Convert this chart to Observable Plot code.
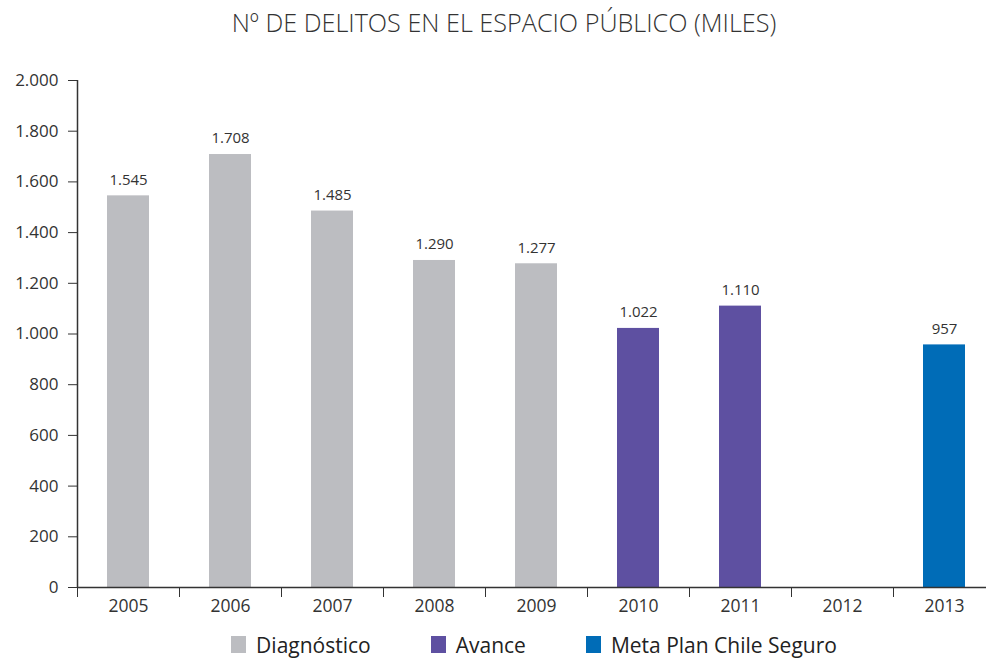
<!DOCTYPE html>
<html>
<head>
<meta charset="utf-8">
<script src="https://cdn.jsdelivr.net/npm/d3@7"></script>
<script src="https://cdn.jsdelivr.net/npm/@observablehq/plot@0.6"></script>
<style>
  html, body { margin: 0; padding: 0; background: #fff; }
  body { width: 986px; height: 658px; overflow: hidden; font-family: "Open Sans", sans-serif; color: #333; }
  #title { height: 45px; line-height: 45px; text-align: center; font-size: 25.2px; font-weight: 300; color: #333; padding-left: 22px; }
  #legend { box-sizing: border-box; display: flex; justify-content: center; align-items: center; height: 33px; padding-top: 6px; font-size: 21px; line-height: 26px; color: #222; padding-left: 82px; }
  .item { display: flex; align-items: center; margin: 0 30px; }
  .sw { width: 15px; height: 17px; margin-right: 10px; }
</style>
</head>
<body>
<div id="title">Nº DE DELITOS EN EL ESPACIO PÚBLICO (MILES)</div>
<div id="chart"></div>
<div id="legend"></div>
<script>
const years = [2005, 2006, 2007, 2008, 2009, 2010, 2011, 2012, 2013];
const values = [1545, 1708, 1485, 1290, 1277, 1022, 1110, null, 957];
const series = ["Diagnóstico", "Diagnóstico", "Diagnóstico", "Diagnóstico", "Diagnóstico", "Avance", "Avance", null, "Meta Plan Chile Seguro"];
const seriesNames = ["Diagnóstico", "Avance", "Meta Plan Chile Seguro"];
const seriesColors = ["#bcbdc1", "#5e50a1", "#006cb7"];
const yTicks = [0, 200, 400, 600, 800, 1000, 1200, 1400, 1600, 1800, 2000];

const data = years.map((year, i) => ({year, value: values[i], series: series[i]})).filter(d => d.value != null);
const boundaries = [years[0] - 0.5, ...years.map(y => y + 0.5)];

const locale = d3.formatLocale({decimal: ",", thousands: ".", grouping: [3], currency: ["$", ""]});
const fmt = locale.format(",d");

const chart = Plot.plot({
  width: 986,
  height: 580,
  marginTop: 35,
  marginBottom: 38,
  marginLeft: 77,
  marginRight: 0,
  style: {fontFamily: "Open Sans, sans-serif", fontSize: "16px", color: "#333", background: "#fff"},
  x: {type: "linear", domain: [boundaries[0], boundaries[boundaries.length - 1]], range: [77, 995]},
  y: {domain: [0, 2000]},
  color: {domain: seriesNames, range: seriesColors},
  marks: [
    Plot.rectY(data, {x1: d => d.year - 0.5, x2: d => d.year + 0.5, y: "value", fill: "series", insetLeft: 30, insetRight: 30}),
    Plot.text(data, {x: "year", y: "value", text: d => fmt(d.value), dy: -16, fontSize: 15, fill: "#333"}),
    Plot.axisY({ticks: yTicks, tickFormat: fmt, tickSize: 9, tickPadding: 10, stroke: "#333", fontSize: 17, label: null}),
    Plot.axisX({ticks: boundaries, tickFormat: () => "", tickSize: 10, stroke: "#333", label: null}),
    Plot.axisX({ticks: years, tickFormat: d => String(d), tickSize: 0, tickPadding: 12, fontSize: 17.5, label: null}),
    Plot.ruleX([boundaries[0]], {stroke: "#333", strokeWidth: 1.5}),
    Plot.ruleY([0], {stroke: "#333", strokeWidth: 1.5})
  ]
});
document.getElementById("chart").appendChild(chart);

const legend = document.getElementById("legend");
seriesNames.forEach((name, i) => {
  const item = document.createElement("div");
  item.className = "item";
  const sw = document.createElement("div");
  sw.className = "sw";
  sw.style.background = seriesColors[i];
  const label = document.createElement("span");
  label.textContent = name;
  item.appendChild(sw);
  item.appendChild(label);
  legend.appendChild(item);
});
</script>
</body>
</html>
